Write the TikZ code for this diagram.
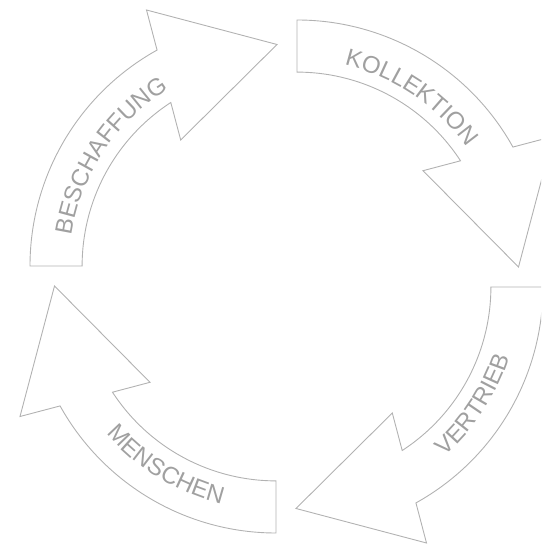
\documentclass[tikz,border=0pt]{standalone}
\usepackage{fontspec}
\setmainfont{Liberation Sans}
\usetikzlibrary{decorations.text}
\definecolor{linegray}{RGB}{178,178,178}
\definecolor{txtgray}{RGB}{160,160,160}
\newcommand{\cyclearrowshape}{%
  \draw[arrowshape] (30,279) arc[start angle=180, end angle=119.05, radius=247]
    -- (146.5,535) -- (277,500.5) -- (180.7,405) -- (170.8,442.5)
    arc[start angle=123.04, end angle=180, radius=195] -- cycle;}
% #1 text, #2 centre angle
\newcommand{\outtext}[2]{%
  \path[decorate, decoration={text along path, text align=center,
      text={|\fontsize{24}{24}\selectfont\color{txtgray}|#1}}]
    ([shift={(#2+30:207.5)}]277,279) arc[start angle=#2+30, end angle=#2-30, radius=207.5];}
\newcommand{\intext}[2]{%
  \path[decorate, decoration={text along path, text align=center,
      text={|\fontsize{24}{24}\selectfont\color{txtgray}|#1}}]
    ([shift={(#2-30:225)}]277,279) arc[start angle=#2-30, end angle=#2+30, radius=225];}
\begin{document}
\begin{tikzpicture}[x=1pt,y=1pt,
  arrowshape/.style={draw=linegray, line width=0.9pt, line join=miter}]
\useasboundingbox (0,0) rectangle (541,545);
\clip (0,0) rectangle (541,545);
% BESCHAFFUNG
\begin{scope}
  \cyclearrowshape
  \outtext{BESCHAFFUNG}{146.5}
\end{scope}
% KOLLEKTION
\begin{scope}[rotate around={-90:(286.5,268.5)}]
  \cyclearrowshape
  \outtext{KOLLEKTION}{146}
\end{scope}
% VERTRIEB
\begin{scope}[rotate around={180:(286.5,268.5)}]
  \cyclearrowshape
  \intext{VERTRIEB}{146.5}
\end{scope}
% MENSCHEN
\begin{scope}[rotate around={90:(286.5,268.5)}]
  \cyclearrowshape
  \intext{MENSCHEN}{148.5}
\end{scope}
\end{tikzpicture}
\end{document}
